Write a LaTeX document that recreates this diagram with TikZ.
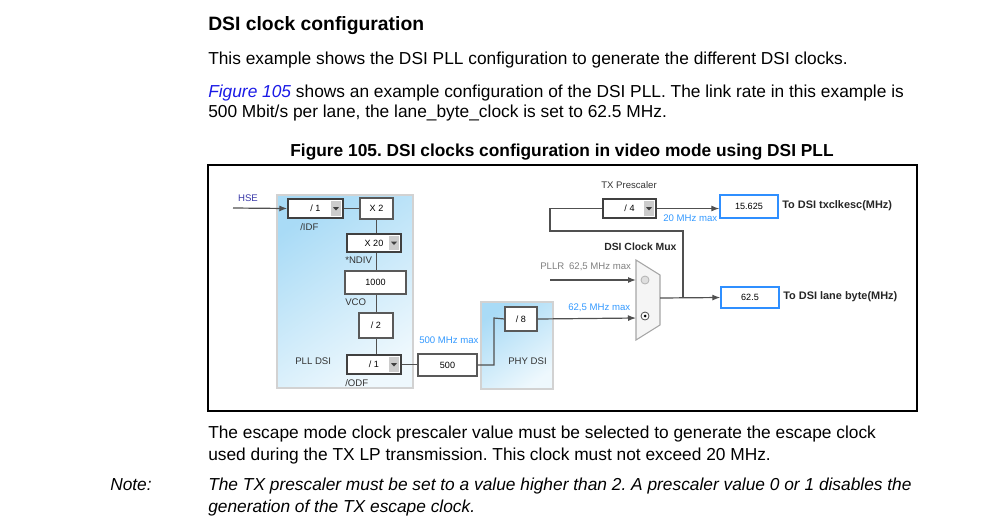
\documentclass[tikz,border=0pt]{standalone}
\usepackage{fontspec}
\setmainfont{Liberation Sans}
\usetikzlibrary{arrows.meta}
\definecolor{ln}{HTML}{505050}
\definecolor{lblue}{HTML}{3399FF}
\definecolor{hseblue}{HTML}{3A3AA8}
\definecolor{linkblue}{HTML}{1A1AE6}
\definecolor{outblue}{HTML}{2F8FFF}
\definecolor{panelblue}{HTML}{A9DBF6}
\definecolor{panellight}{HTML}{EEF8FD}
\frenchspacing
\begin{document}
\begin{tikzpicture}[x=0.75pt,y=-0.75pt,
  body/.style={anchor=base west,inner sep=0pt,font=\fontsize{13}{15}\selectfont},
  bodyit/.style={body,font=\itshape\fontsize{13}{15}\selectfont},
  small/.style={inner sep=0pt,font=\fontsize{7.2}{8}\selectfont,text=black!80},
  smallb/.style={inner sep=0pt,font=\bfseries\fontsize{7.8}{9}\selectfont,text=black!85},
  conn/.style={draw=ln,line width=0.9pt},
  arr/.style={conn,-{Latex[length=6pt,width=4.5pt]}},
  box/.style={draw=black!65,fill=white,line width=0.9pt,inner sep=0pt,font=\fontsize{6.8}{8}\selectfont},
  dropdown/.style={box,draw=black!75,line width=1.1pt,path picture={
    \fill[gray!40] ([xshift=-9pt,yshift=1.5pt]path picture bounding box.south east) rectangle ([xshift=-1.5pt,yshift=-1.5pt]path picture bounding box.north east);
    \fill[black!75] ([xshift=-7.5pt,yshift=1pt]path picture bounding box.east) -- ++(4.5pt,0) -- ++(-2.25pt,-2.5pt) -- cycle;}},
  outbox/.style={draw=outblue,fill=white,line width=1pt,inner sep=0pt,font=\fontsize{6.8}{8}\selectfont},
  panel/.style={draw=gray!35,line width=0.8pt,top color=panelblue,bottom color=panellight,shading angle=35}
]
\useasboundingbox (0,0) rectangle (999,522);

% ---- text above ----
\node[anchor=base west,inner sep=0pt,font=\bfseries\fontsize{14.5}{17}\selectfont] (head) at (208,30) {DSI clock configuration};
\node[body] (p1) at (208,64) {This example shows the DSI PLL configuration to generate the different DSI clocks.};
\node[body] (p2) at (208,97) {\textcolor{linkblue}{\itshape Figure 105} shows an example configuration of the DSI PLL. The link rate in this example is};
\node[body] (p3) at (208,117) {500 Mbit/s per lane, the lane\_byte\_clock is set to 62.5 MHz.};
\node[anchor=base,inner sep=0pt,font=\bfseries\fontsize{13}{15}\selectfont] (cap) at (562,156) {Figure 105. DSI clocks configuration in video mode using DSI PLL};

% ---- frame ----
\draw[black,line width=1.1pt] (208,165) rectangle (917,411);

% ---- panels ----
\path[panel] (277,195) rectangle (413,388);
\path[panel] (481,302) rectangle (553,389);

% ---- boxes ----
\node[dropdown,minimum width=41.25pt,minimum height=14.25pt] (idf) at (315.5,208.5) {/ 1\hspace{11pt}};
\node[box,minimum width=24.75pt,minimum height=15.75pt] (x2) at (376.5,208.5) {X 2};
\node[dropdown,minimum width=40.5pt,minimum height=13.5pt] (ndiv) at (374,243) {X 20\hspace{11pt}};
\node[box,minimum width=45.75pt,minimum height=17.25pt] (vco) at (375.5,282.5) {1000};
\node[box,minimum width=25.5pt,minimum height=18.75pt] (div2) at (376,325.5) {/ 2};
\node[dropdown,minimum width=40.5pt,minimum height=14.25pt] (odf) at (374,364.5) {/ 1\hspace{11pt}};
\node[box,minimum width=44.25pt,minimum height=16.5pt] (b500) at (447.5,365) {500};
\node[box,minimum width=24pt,minimum height=18pt] (div8) at (521,319) {/ 8};
\node[dropdown,minimum width=39.75pt,minimum height=14.25pt] (div4) at (629.5,208.5) {/ 4\hspace{11pt}};
\node[outbox,minimum width=43.5pt,minimum height=17.25pt] (out1) at (749,206.5) {15.625};
\node[outbox,minimum width=43.5pt,minimum height=15.75pt] (out2) at (750,297.5) {62.5};

% ---- mux ----
\filldraw[fill=gray!8,draw=gray!70,line width=0.8pt] (636,260) -- (660,275) -- (660,325) -- (636,340) -- cycle;
\filldraw[fill=gray!25,draw=gray!60,line width=0.6pt] (645,280) circle[radius=4];
\filldraw[fill=white,draw=black!70,line width=0.6pt] (645,316) circle[radius=4];
\fill[black] (645,316) circle[radius=1.5];
\coordinate (muxin1) at (636,280);
\coordinate (muxin2) at (636,318);
\coordinate (muxout) at (660,298);
\coordinate (jn) at (683,298);
\coordinate (loopL) at (550,231);
\coordinate (pllr) at (550,280);
\coordinate (hse) at (233,208);
\coordinate (bend) at (494,318);

% ---- connectors ----
\draw[arr] (hse) -- (idf.west);
\draw[conn] (idf.east) -- (x2.west |- idf.east);
\draw[conn] (x2.south) -- (x2.south |- ndiv.north);
\draw[conn] (x2.south |- ndiv.south) -- (x2.south |- vco.north);
\draw[conn] (x2.south |- vco.south) -- (x2.south |- div2.north);
\draw[conn] (x2.south |- div2.south) -- (x2.south |- odf.north);
\draw[conn] (odf.east) -- (b500.west |- odf.east);
\draw[conn] (b500.east) -| (bend) -- (div8.west);
\draw[arr] (div8.east) -- (muxin2);
\draw[arr] (pllr) -- (muxin1);
\draw[arr] (muxout) -- (out2.west);
\draw[conn] (jn) |- (loopL) |- (div4.west);
\draw[arr] (div4.east) -- (out1.west |- div4.east);

% ---- diagram labels ----
\node[small,text=hseblue] (lhse) at (248,198) {HSE};
\node[small,anchor=west] (lidf) at (300,227) {/IDF};
\node[small,anchor=west] (lndiv) at (345,260) {*NDIV};
\node[small,anchor=west] (lvco) at (345,302) {VCO};
\node[small,anchor=west] (lpll) at (295,361) {PLL DSI};
\node[small,anchor=west] (lodf) at (345,383) {/ODF};
\node[small,anchor=west,text=lblue] (l500) at (419,340) {500 MHz max};
\node[small,anchor=west] (lphy) at (508,361) {PHY DSI};
\node[small,anchor=west] (ltx) at (601,185) {TX Prescaler};
\node[small,anchor=west,text=lblue] (l20) at (663,218) {20 MHz max};
\node[smallb,anchor=west] (lmux) at (604,247) {DSI Clock Mux};
\node[small,anchor=west,text=gray] (lpllr) at (540,267) {PLLR\enspace 62,5 MHz max};
\node[small,anchor=west,text=lblue] (l625) at (568,308) {62,5 MHz max};
\node[smallb,anchor=west,font=\bfseries\fontsize{8.2}{9}\selectfont] (lo1) at (782,206) {To DSI txclkesc(MHz)};
\node[smallb,anchor=west,font=\bfseries\fontsize{8.2}{9}\selectfont] (lo2) at (783,297) {To DSI lane byte(MHz)};

% ---- text below ----
\node[body] (q1) at (208,438) {The escape mode clock prescaler value must be selected to generate the escape clock};
\node[body] (q2) at (208,460) {used during the TX LP transmission. This clock must not exceed 20 MHz.};
\node[bodyit] (note) at (110,490) {Note:};
\node[bodyit] (n1) at (208,490) {The TX prescaler must be set to a value higher than 2. A prescaler value 0 or 1 disables the};
\node[bodyit] (n2) at (208,512) {generation of the TX escape clock.};
\end{tikzpicture}
\end{document}
